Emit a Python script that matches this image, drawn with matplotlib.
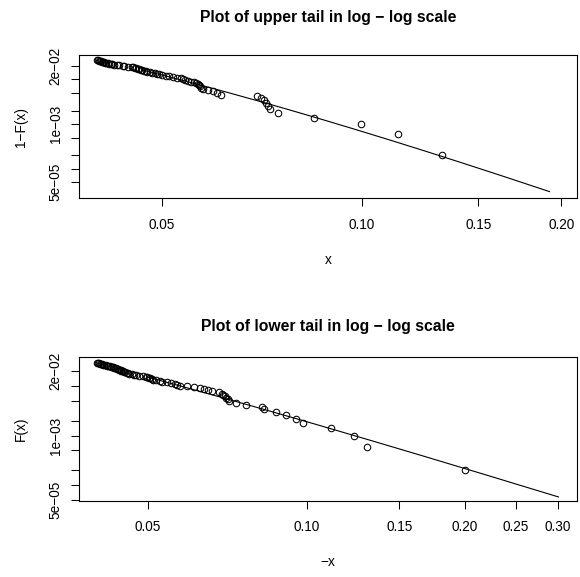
import matplotlib
matplotlib.use("Agg")
import matplotlib.pyplot as plt
import numpy as np

plt.rcParams['font.family'] = ['Liberation Sans', 'DejaVu Sans']

# sample size behind the empirical tail probabilities
N_OBS = 2500

# upper tail observations x (largest first)
UPPER_X = [0.1320, 0.1135, 0.0997, 0.0846, 0.0748, 0.0728, 0.0723, 0.0718, 0.0712, 0.0706,
           0.0695, 0.0614, 0.0604, 0.0597, 0.0587, 0.0576, 0.0573, 0.0571, 0.0569, 0.0566,
           0.0563, 0.0559, 0.0553, 0.0547, 0.0542, 0.0538, 0.0533, 0.0527, 0.0519, 0.0512,
           0.0507, 0.0500, 0.0495, 0.0491, 0.0487, 0.0483, 0.0479, 0.0474, 0.0472, 0.0469,
           0.0466, 0.0465, 0.0462, 0.0460, 0.0457, 0.0455, 0.0452, 0.0450, 0.0444, 0.0438,
           0.0436, 0.0430, 0.0427, 0.0423, 0.0420, 0.0418, 0.0416, 0.0414, 0.0411, 0.0410,
           0.0408, 0.0407, 0.0406, 0.0404, 0.0403, 0.0401, 0.0400, 0.0399]

# lower tail observations, plotted as -x (largest first)
LOWER_NEG_X = [0.2003, 0.1300, 0.1232, 0.1112, 0.0986, 0.0954, 0.0913, 0.0875, 0.0831, 0.0823,
               0.0767, 0.0734, 0.0711, 0.0708, 0.0703, 0.0700, 0.0694, 0.0690, 0.0682, 0.0662,
               0.0650, 0.0639, 0.0628, 0.0612, 0.0593, 0.0575, 0.0568, 0.0562, 0.0553, 0.0544,
               0.0532, 0.0526, 0.0518, 0.0511, 0.0508, 0.0504, 0.0501, 0.0498, 0.0495, 0.0488,
               0.0481, 0.0475, 0.0470, 0.0465, 0.0460, 0.0457, 0.0455, 0.0452, 0.0450, 0.0447,
               0.0445, 0.0444, 0.0442, 0.0440, 0.0439, 0.0437, 0.0435, 0.0433, 0.0431, 0.0429,
               0.0428, 0.0425, 0.0423, 0.0420, 0.0418, 0.0416, 0.0413, 0.0411, 0.0409, 0.0407,
               0.0405, 0.0403, 0.0402, 0.0400]

# fitted GPD tails: threshold, exceedance prob, scale, shape, end of drawn curve
UPPER_U, UPPER_PU, UPPER_SIGMA, UPPER_XI, UPPER_END = 0.0466, 0.0164, 0.0125, 0.18, 0.192
LOWER_U, LOWER_PU, LOWER_SIGMA, LOWER_XI, LOWER_END = 0.0500, 0.0150, 0.0175, 0.30, 0.301

Y_TICKS = [5e-05, 1e-04, 2e-04, 5e-04, 1e-03, 2e-03, 5e-03, 1e-02, 2e-02]
Y_TICK_LABELS = ['5e\u221205', '', '', '', '1e\u221203', '', '', '', '2e\u221202']
UPPER_X_TICKS = [0.05, 0.10, 0.15, 0.20]
LOWER_X_TICKS = [0.05, 0.10, 0.15, 0.20, 0.25, 0.30]


def gpd_tail(x, u, p_u, sigma, xi):
    return p_u * (1 + xi * (x - u) / sigma) ** (-1 / xi)


def tail_probs(xs):
    # empirical exceedance probabilities from ranks
    ranks = np.arange(1, len(xs) + 1)
    return (ranks - 0.5) / N_OBS


def draw_panel(ax, xs, fit, xticks, xlim, ylim, title, title_y, xlabel, ylabel):
    xs = np.array(xs)
    ax.plot(xs, tail_probs(xs), 'o', mfc='none', mec='black', ms=4.7, mew=0.75)
    u, p_u, sigma, xi, x_end = fit
    grid = np.geomspace(u, x_end, 300)
    ax.plot(grid, gpd_tail(grid, u, p_u, sigma, xi), color='black', lw=0.8)

    ax.set_xscale('log')
    ax.set_yscale('log')
    ax.set_xlim(xlim)
    ax.set_ylim(ylim)
    ax.minorticks_off()
    ax.set_xticks(xticks)
    ax.set_xticklabels(['%.2f' % t for t in xticks])
    ax.set_yticks(Y_TICKS)
    ax.set_yticklabels(Y_TICK_LABELS, rotation=90, va='center')
    ax.tick_params(axis='both', length=6, width=0.75, labelsize=9.8)
    ax.tick_params(axis='x', pad=8)
    ax.tick_params(axis='y', pad=6)
    for sp in ax.spines.values():
        sp.set_linewidth(0.8)

    ax.set_title(title, fontsize=11.3, fontweight='bold', y=title_y, pad=0, va='center')
    ax.set_xlabel(xlabel, fontsize=9.8)
    ax.xaxis.set_label_coords(0.5, -0.43)
    ax.xaxis.label.set_va('center')
    ax.set_ylabel(ylabel, fontsize=9.8)
    ax.yaxis.set_label_coords(-0.117, 0.5)
    ax.yaxis.label.set_va('center')


fig = plt.figure(figsize=(5.8, 5.77), dpi=100)
top = fig.add_axes((0.1367, 0.6563, 0.8576, 0.2484))
bottom = fig.add_axes((0.1367, 0.1322, 0.8576, 0.2485))

draw_panel(top, UPPER_X, (UPPER_U, UPPER_PU, UPPER_SIGMA, UPPER_XI, UPPER_END),
           UPPER_X_TICKS, (0.0375, 0.211), (2.19e-05, 0.0353),
           'Plot of upper tail in log \u2212 log scale', 1.265, 'x', '1\u2212F(x)')
draw_panel(bottom, LOWER_NEG_X, (LOWER_U, LOWER_PU, LOWER_SIGMA, LOWER_XI, LOWER_END),
           LOWER_X_TICKS, (0.0370, 0.326), (4.84e-05, 0.0378),
           'Plot of lower tail in log \u2212 log scale', 1.212, '\u2212x', 'F(x)')

fig.savefig('out.png', dpi=100)
